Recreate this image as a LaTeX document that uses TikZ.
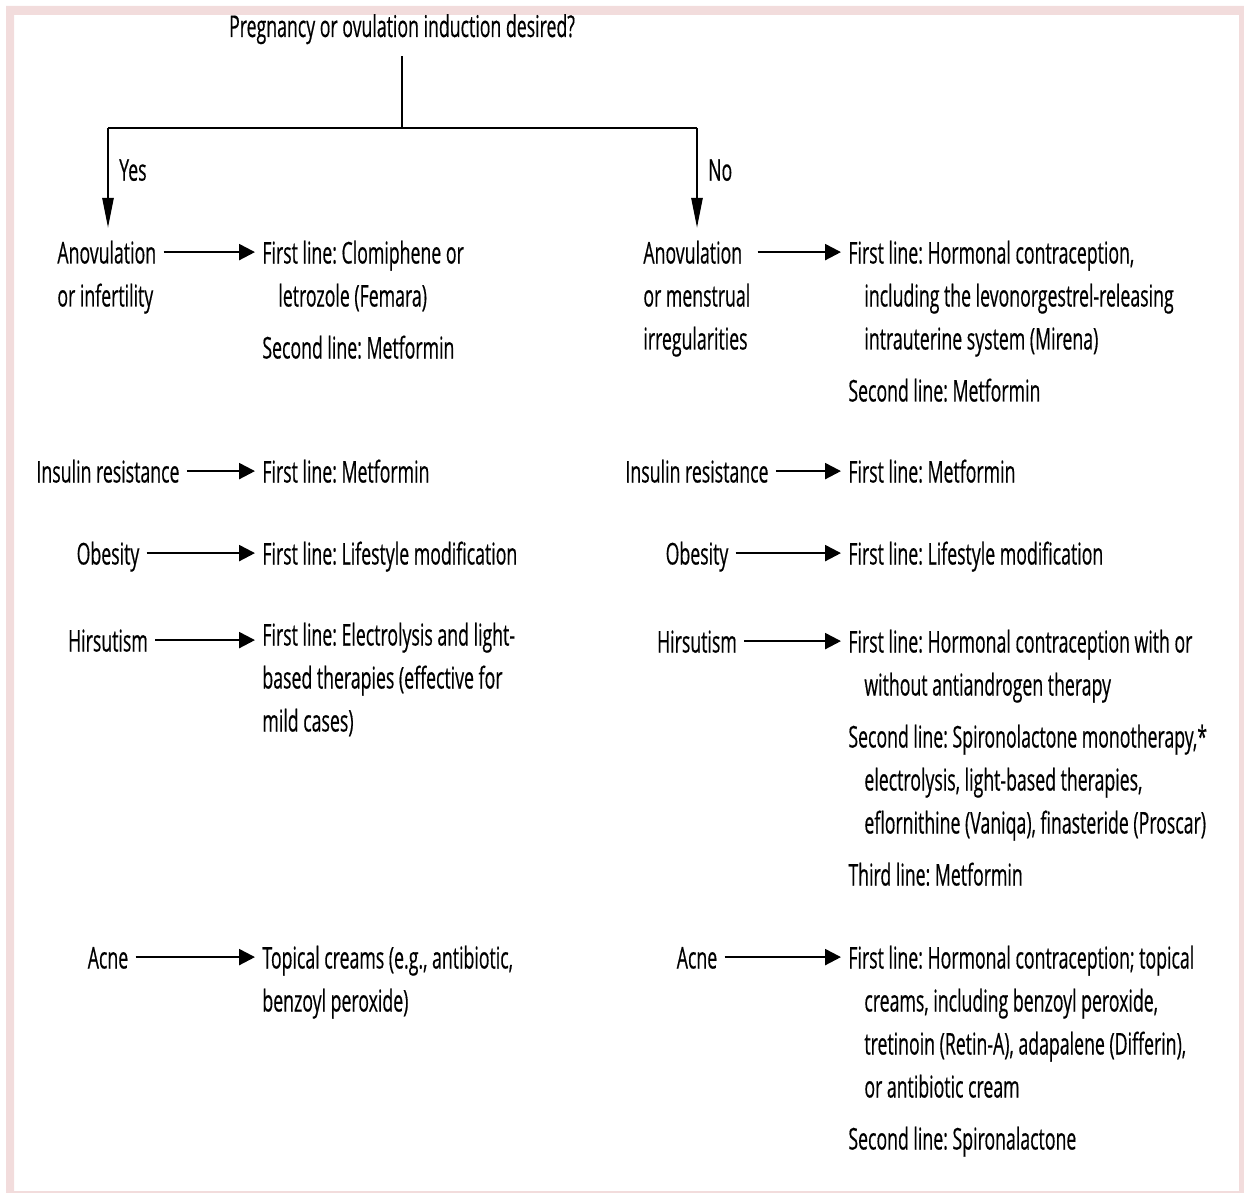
\documentclass[tikz,border=0pt]{standalone}
\usepackage{fontspec}
\setmainfont{Open Sans}[FakeStretch=0.59,FakeBold=0.4]
\usetikzlibrary{arrows.meta}
\definecolor{framepink}{HTML}{F2DCDC}
\newcommand{\ind}{\hspace*{8pt}}
\frenchspacing

\begin{document}
\begin{tikzpicture}[x=0.5pt,y=-0.5pt,
	txt/.style={font=\fontsize{15}{21.5}\selectfont, inner sep=0pt, execute at begin node=\strut},
	cond/.style={txt, anchor=north},
	condblock/.style={txt, anchor=north west, align=left},
	treat/.style={txt, anchor=north west, align=left},
	tree/.style={line width=1.2pt},
	branch/.style={tree, -{Triangle[length=15pt,width=5.5pt]}, shorten >=2.5pt},
	link/.style={tree, -{Triangle[length=8pt,width=8pt]}, shorten <=3.5pt, shorten >=3.5pt}]
		\useasboundingbox (0,0) rectangle (1244,1193);
		\fill[framepink, even odd rule] (6,6) rectangle (1244,1193) (14,15) rectangle (1239,1191);

		\node (ask)[txt, anchor=base] at (402,37) {Pregnancy or ovulation induction desired?};
		\coordinate (fork) at (402,128);
		\coordinate (yes) at (108,128);
		\coordinate (no) at (697,128);

		% yes side
		\node (anovY)[condblock] at (57,233) {\strut Anovulation\\or infertility};
		\node (anovYt)[treat] at (262,233) {\strut First line: Clomiphene or\\\ind letrozole (Femara)\\[4.5pt]Second line: Metformin};
		\node (insY)[cond] at (108,452) {Insulin resistance};
		\node (insYt)[treat] at (262,452) {First line: Metformin};
		\node (obeY)[cond] at (108,534) {Obesity};
		\node (obeYt)[treat] at (262,534) {First line: Lifestyle modification};
		\node (hirY)[cond] at (108,621) {Hirsutism};
		\node (hirYt)[treat] at (262,615) {\strut First line: Electrolysis and light-\\based therapies (effective for\\mild cases)};
		\node (acnY)[cond] at (108,938) {Acne};
		\node (acnYt)[treat] at (262,938) {\strut Topical creams (e.g., antibiotic,\\benzoyl peroxide)};

		% no side
		\node (anovN)[condblock] at (643,233) {\strut Anovulation\\or menstrual\\irregularities};
		\node (anovNt)[treat] at (848,233) {\strut First line: Hormonal contraception,\\\ind including the levonorgestrel-releasing\\\ind intrauterine system (Mirena)\\[4.5pt]Second line: Metformin};
		\node (insN)[cond] at (697,452) {Insulin resistance};
		\node (insNt)[treat] at (848,452) {First line: Metformin};
		\node (obeN)[cond] at (697,534) {Obesity};
		\node (obeNt)[treat] at (848,534) {First line: Lifestyle modification};
		\node (hirN)[cond] at (697,622) {Hirsutism};
		\node (hirNt)[treat] at (848,622) {\strut First line: Hormonal contraception with or\\\ind without antiandrogen therapy\\[4.5pt]Second line: Spironolactone monotherapy,*\\\ind electrolysis, light-based therapies,\\\ind eflornithine (Vaniqa), finasteride (Proscar)\\[4.5pt]Third line: Metformin};
		\node (acnN)[cond] at (697,938) {Acne};
		\node (acnNt)[treat] at (848,938) {\strut First line: Hormonal contraception; topical\\\ind creams, including benzoyl peroxide,\\\ind tretinoin (Retin-A), adapalene (Differin),\\\ind or antibiotic cream\\[4.5pt]Second line: Spironalactone};

		% tree
		\draw[tree] ([yshift=-3pt]ask.south)--(fork);
		\draw[tree] (yes)--(no);
		\draw[branch] (yes)-- node (yesL)[txt, anchor=west, xshift=5pt, pos=.42] {Yes} (yes |- anovY.north);
		\draw[branch] (no)-- node (noL)[txt, anchor=west, xshift=5pt, pos=.42] {No} (no |- anovN.north);

		\draw[link] ([yshift=-9.55pt]anovY.north east)--([yshift=-9.55pt]anovYt.north west);
		\draw[link] ([yshift=-9.55pt]insY.north east)--([yshift=-9.55pt]insYt.north west);
		\draw[link] ([yshift=-9.55pt]obeY.north east)--([yshift=-9.55pt]obeYt.north west);
		\draw[link] ([yshift=-9.55pt]hirY.north east)--([yshift=-9.55pt]hirYt.north west |- hirY.north east);
		\draw[link] ([yshift=-9.55pt]acnY.north east)--([yshift=-9.55pt]acnYt.north west);
		\draw[link] ([yshift=-9.55pt]anovN.north east)--([yshift=-9.55pt]anovNt.north west);
		\draw[link] ([yshift=-9.55pt]insN.north east)--([yshift=-9.55pt]insNt.north west);
		\draw[link] ([yshift=-9.55pt]obeN.north east)--([yshift=-9.55pt]obeNt.north west);
		\draw[link] ([yshift=-9.55pt]hirN.north east)--([yshift=-9.55pt]hirNt.north west);
		\draw[link] ([yshift=-9.55pt]acnN.north east)--([yshift=-9.55pt]acnNt.north west);
	\end{tikzpicture}
\end{document}
